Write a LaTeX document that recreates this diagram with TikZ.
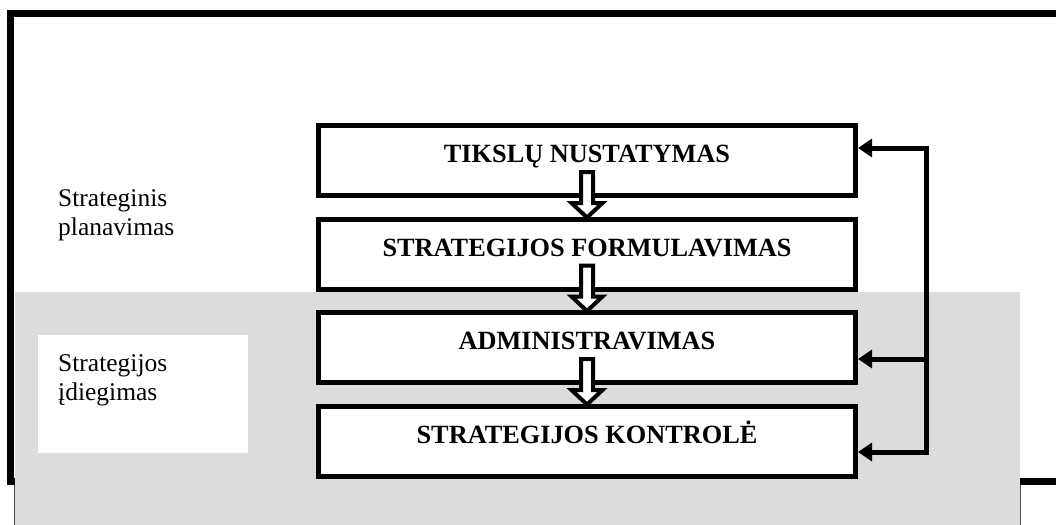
\documentclass[tikz,border=0pt]{standalone}
\usepackage{fontspec}
\setmainfont{Liberation Serif}
\usetikzlibrary{arrows.meta,calc}

\definecolor{phasegray}{RGB}{220,220,220}

\begin{document}
\begin{tikzpicture}[x=1pt,y=-1pt]
        \tikzstyle{stage}=[draw,line width=5pt,fill=white,minimum width=537pt,minimum height=70pt,inner sep=0pt,text height=18pt,text depth=14pt,font=\fontsize{26.3}{30}\selectfont\bfseries]
        \tikzstyle{phase}=[align=left,inner sep=0pt,anchor=base west,font=\fontsize{25.5}{29}\selectfont]
        \tikzstyle{flow}=[draw,fill=white,line width=4pt]
        \tikzstyle{feedback}=[line width=5pt]
        \useasboundingbox (0,0) rectangle (1056,524);
        % frame and the gray band
        \draw[line width=7pt] (1060,13.5) -- (10.5,13.5) -- (10.5,481.5) -- (1060,481.5);
        \fill[phasegray] (15,292) rectangle (1020,530);
        \draw[black!70,line width=1pt] (14,485) -- (14,530) (1020.5,485) -- (1020.5,530);
        \node[fill=white,minimum width=210pt,minimum height=118pt,anchor=north west,inner sep=0pt] (idiegimasbox) at (38,335) {};
        \node[phase] (planavimas) at (58,235.5) {Strateginis\\planavimas};
        \node[phase] (idiegimas) at (58,400.5) {Strategijos\\įdiegimas};
        % stages
        \node[stage] (tikslai) at (587,160.5) {TIKSLŲ NUSTATYMAS};
        \node[stage] (formulavimas) at (587,254) {STRATEGIJOS FORMULAVIMAS};
        \node[stage] (administravimas) at (587,347.5) {ADMINISTRAVIMAS};
        \node[stage] (kontrole) at (587,441) {STRATEGIJOS KONTROLĖ};
        \foreach \a/\b in {tikslai/formulavimas,formulavimas/administravimas,administravimas/kontrole}
            \draw[flow] ($(\a.center)+(-6,11.5)$) -- ($(\b.north)+(-6,-13.5)$) -- ++(-9.5,0) -- ($(\b.north)+(0,1)$)
                -- ($(\b.north)+(15.5,-13.5)$) -- ++(-9.5,0) -- ($(\a.center)+(6,11.5)$) -- cycle;
        % feedback
        \coordinate (fbtop) at (926.5,148);
        \coordinate (fbmid) at (926.5,359);
        \coordinate (fbbot) at (926.5,452);
        \draw[feedback,{Triangle[length=14pt,width=18pt]}-{Triangle[length=14pt,width=18pt]}] (fbtop -| tikslai.east) -- (fbtop) -- (fbbot) -- (fbbot -| kontrole.east);
        \draw[feedback,-{Triangle[length=14pt,width=18pt]}] (fbmid) -- (fbmid -| administravimas.east);
\end{tikzpicture}
\end{document}
